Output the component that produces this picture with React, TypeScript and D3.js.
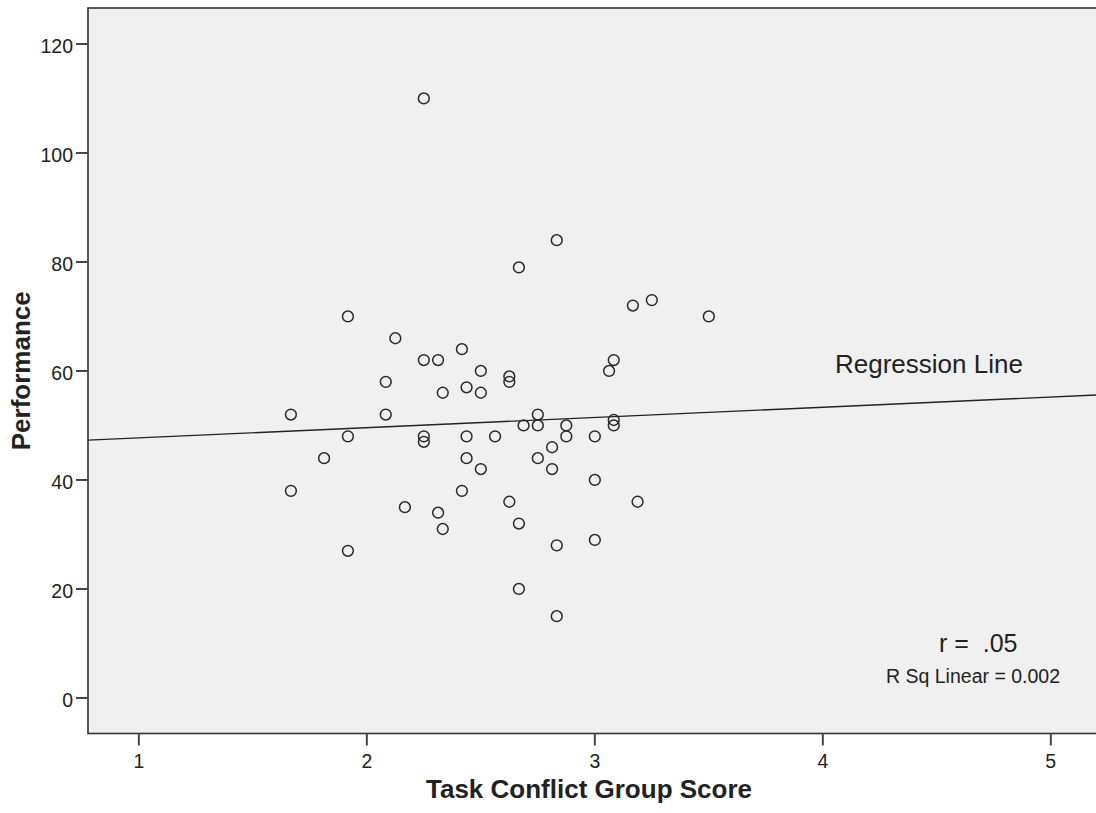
import React from 'react'
import * as d3 from 'd3'

// task conflict group score (x) and performance (y)
const taskConflict = [
  1.667, 1.667, 1.8125, 1.917, 1.917, 1.917, 2.083, 2.083, 2.125, 2.167,
  2.25, 2.25, 2.25, 2.25, 2.3125, 2.333, 2.3125, 2.333, 2.417, 2.417,
  2.4375, 2.4375, 2.4375, 2.5, 2.5, 2.5, 2.5625, 2.625, 2.625, 2.625,
  2.667, 2.667, 2.667, 2.6875, 2.75, 2.75, 2.75, 2.8125, 2.8125, 2.833,
  2.833, 2.833, 2.875, 2.875, 3.0, 3.0, 3.0, 3.0625, 3.083, 3.083,
  3.083, 3.167, 3.1875, 3.25, 3.5
]
const performance = [
  52, 38, 44, 70, 48, 27, 58, 52, 66, 35,
  110, 62, 48, 47, 62, 56, 34, 31, 64, 38,
  57, 48, 44, 60, 56, 42, 48, 59, 58, 36,
  79, 32, 20, 50, 52, 50, 44, 46, 42, 84,
  28, 15, 50, 48, 48, 40, 29, 60, 62, 51,
  50, 72, 36, 73, 70
]

const xTicks = [1, 2, 3, 4, 5]
const yTicks = [0, 20, 40, 60, 80, 100, 120]

// fitted line as drawn in the chart
const lineIntercept = 45.86
const lineSlope = 1.87

const W = 1096
const H = 813
const left = 88
const top = 8
const bottom = 733.5
const right = 1100

export default function App() {
  const x = d3.scaleLinear().domain([0.777, 5.2]).range([left, 1096.4])
  const y = d3.scaleLinear().domain([-6.52, 126.6]).range([bottom, top])

  const points = taskConflict.map((v, i) => ({ x: v, y: performance[i] }))
  const [x0, x1] = x.domain()
  const regLine = d3
    .line<number>()
    .x(d => x(d))
    .y(d => y(lineIntercept + lineSlope * d))([x0, x1])

  const font = "'Liberation Sans', Arial, sans-serif"
  const ink = '#222'

  return (
    <svg
      width={W}
      height={H}
      style={{ position: 'absolute', left: 0, top: 0, background: '#fff' }}
      fontFamily={font}
    >
      <rect
        x={left}
        y={top}
        width={right - left}
        height={bottom - top}
        fill="#f0f0f0"
        stroke="#333"
        strokeWidth={1.6}
      />

      {/* y axis ticks */}
      {yTicks.map(t => (
        <g key={'y' + t}>
          <line x1={left - 12} x2={left} y1={y(t)} y2={y(t)} stroke="#444" strokeWidth={2} />
          <text x={left - 15} y={y(t) + 9} textAnchor="end" fontSize={19.5} fill={ink}>
            {t}
          </text>
        </g>
      ))}

      {/* x axis ticks */}
      {xTicks.map(t => (
        <g key={'x' + t}>
          <line x1={x(t)} x2={x(t)} y1={bottom} y2={bottom + 12} stroke="#444" strokeWidth={2} />
          <text x={x(t)} y={768} textAnchor="middle" fontSize={19.5} fill={ink}>
            {t}
          </text>
        </g>
      ))}

      <path d={regLine || ''} stroke="#222" strokeWidth={1.4} fill="none" />

      {points.map((p, i) => (
        <circle
          key={i}
          cx={x(p.x)}
          cy={y(p.y)}
          r={5.4}
          fill="none"
          stroke="#2a2a2a"
          strokeWidth={1.5}
        />
      ))}

      <text x={835} y={373} fontSize={26} fill={ink}>
        Regression Line
      </text>
      <text x={939} y={652} fontSize={25} fill={ink} style={{ whiteSpace: 'pre' }}>
        {'r =  .05'}
      </text>
      <text x={886} y={683} fontSize={19.5} fill={ink}>
        R Sq Linear = 0.002
      </text>

      <text x={589} y={798} textAnchor="middle" fontSize={26} fontWeight="bold" fill={ink}>
        Task Conflict Group Score
      </text>
      <text
        transform={`translate(30,${(top + bottom) / 2}) rotate(-90)`}
        textAnchor="middle"
        fontSize={26}
        fontWeight="bold"
        fill={ink}
      >
        Performance
      </text>
    </svg>
  )
}
